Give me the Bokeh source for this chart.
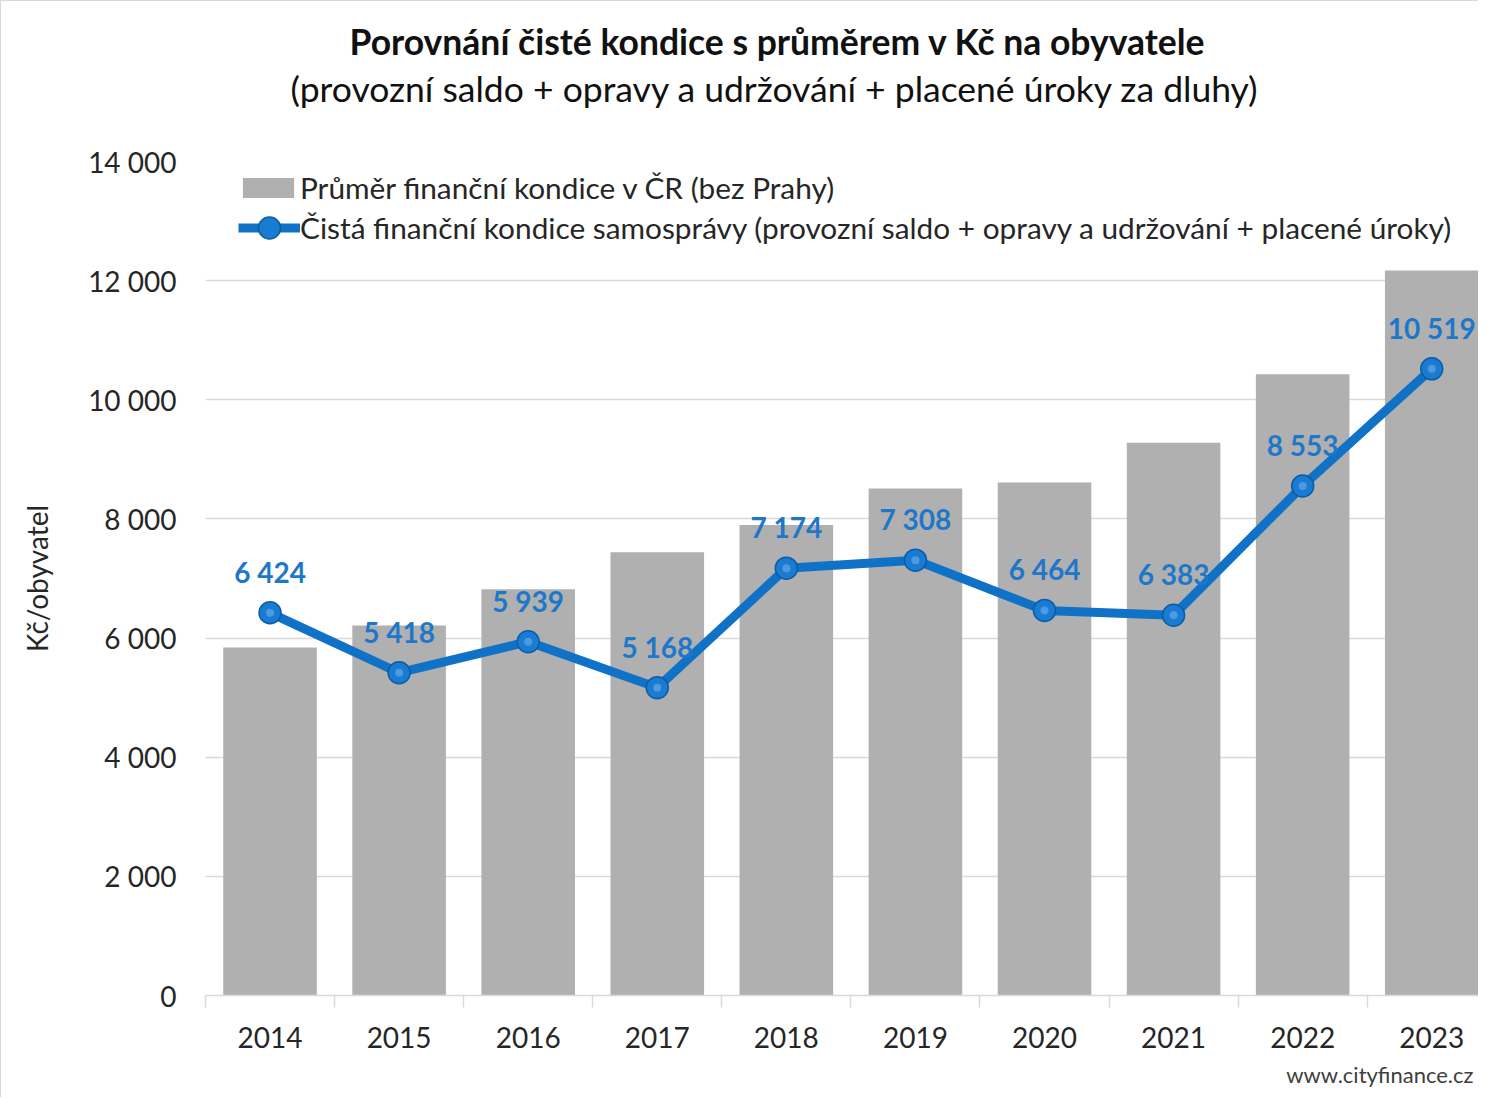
from bokeh.plotting import figure
from bokeh.models import (ColumnDataSource, Range1d, FixedTicker, Legend, LegendItem,
                          LabelSet, Title)
from bokeh.core.properties import value
from bokeh.embed import file_html
from bokeh.resources import INLINE

# ---- data ----
years = ["2014", "2015", "2016", "2017", "2018", "2019", "2020", "2021", "2022", "2023"]
avg_condition = [5840, 6210, 6820, 7440, 7900, 8510, 8610, 9280, 10430, 12170]
net_condition = [6424, 5418, 5939, 5168, 7174, 7308, 6464, 6383, 8553, 10519]
y_ticks = [0, 2000, 4000, 6000, 8000, 10000, 12000, 14000]
y_tick_labels = ["0", "2 000", "4 000", "6 000", "8 000", "10 000", "12 000", "14 000"]

title_text = "Porovnání čisté kondice s průměrem v Kč na obyvatele"
subtitle_text = "(provozní saldo + opravy a udržování + placené úroky za dluhy)"
bar_label = "Průměr finanční kondice v ČR (bez Prahy)"
line_label = "Čistá finanční kondice samosprávy (provozní saldo + opravy a udržování + placené úroky)"
y_axis_label = "Kč/obyvatel"
source_text = "www.cityfinance.cz"

FONT = "Lato"
BAR_COLOR = "#B0B0B0"
LINE_COLOR = "#0F72C6"
LABEL_COLOR = "#1E77C9"
TEXT_COLOR = "#262626"

idx = list(range(len(years)))
src = ColumnDataSource(dict(
    x=idx,
    avg=avg_condition,
    net=net_condition,
    lbl=[f"{v:,}".replace(",", " ") for v in net_condition],
))

p = figure(
    width=1478, height=1097,
    output_backend="svg", toolbar_location=None, title=None,
    x_range=Range1d(-0.5, 9.37), y_range=Range1d(0, 14000),
    min_border_left=204, min_border_right=0, min_border_top=160, min_border_bottom=103,
)
p.outline_line_color = None
p.background_fill_color = "white"
p.border_fill_color = "white"
p.styles = {"border-left": "1px solid #D9D9D9", "border-top": "1px solid #D9D9D9"}

bars = p.vbar(x="x", top="avg", width=0.725, source=src, fill_color=BAR_COLOR, line_color=None)
line = p.line(x="x", y="net", source=src, line_color=LINE_COLOR, line_width=9, line_join="round")
pts = p.scatter(x="x", y="net", source=src, size=22, fill_color="#1A7BD2", line_color="#0A5DA6", line_width=1.5)
hl = p.scatter(x="x", y="net", source=src, size=8, fill_color="#7DBAF0", line_color=None, fill_alpha=0.5)

labels = LabelSet(x="x", y="net", text="lbl", source=src, y_offset=30, text_align="center",
                  text_baseline="alphabetic", text_font=value(FONT), text_font_style="bold",
                  text_font_size="28px", text_color=LABEL_COLOR)
p.add_layout(labels)

# axes
p.xgrid.visible = False
p.ygrid.grid_line_color = "#D9D9D9"
p.ygrid.grid_line_width = 1.5
p.yaxis.ticker = FixedTicker(ticks=y_ticks)
p.yaxis.major_label_overrides = {t: l for t, l in zip(y_ticks, y_tick_labels)}
p.yaxis.axis_line_color = None
p.yaxis.major_tick_line_color = None
p.yaxis.major_tick_out = 0
p.yaxis.minor_tick_line_color = None
p.yaxis.major_label_standoff = 29
p.yaxis.major_label_text_font = FONT
p.yaxis.major_label_text_font_size = "28px"
p.yaxis.major_label_text_color = TEXT_COLOR
p.yaxis.axis_label = y_axis_label
p.yaxis.axis_label_text_font = FONT
p.yaxis.axis_label_text_font_style = "normal"
p.yaxis.axis_label_text_font_size = "28px"
p.yaxis.axis_label_text_color = TEXT_COLOR
p.yaxis.axis_label_standoff = 31

p.xaxis.ticker = FixedTicker(ticks=idx, minor_ticks=[i - 0.5 for i in range(len(years) + 1)])
p.xaxis.major_label_overrides = {i: y for i, y in zip(idx, years)}
p.xaxis.axis_line_color = "#D9D9D9"
p.xaxis.axis_line_width = 1.5
p.xaxis.major_tick_line_color = None
p.xaxis.major_tick_out = 0
p.xaxis.minor_tick_line_color = "#D9D9D9"
p.xaxis.minor_tick_line_width = 1.5
p.xaxis.minor_tick_in = 0
p.xaxis.minor_tick_out = 12
p.xaxis.major_label_standoff = 19
p.xaxis.major_label_text_font = FONT
p.xaxis.major_label_text_font_size = "28px"
p.xaxis.major_label_text_color = TEXT_COLOR


def style_legend(lg):
    lg.background_fill_alpha = 0
    lg.border_line_color = None
    lg.margin = 0
    lg.padding = 0
    lg.label_standoff = 0
    lg.label_text_font = FONT
    lg.label_text_font_size = "29.8px"
    lg.label_text_color = TEXT_COLOR


legend_bar = Legend(items=[LegendItem(label=bar_label, renderers=[bars])],
                    location=(31, 790))
style_legend(legend_bar)
legend_bar.glyph_width = 64
legend_bar.glyph_height = 25
legend_bar.label_height = 25
p.add_layout(legend_bar)

legend_line = Legend(items=[LegendItem(label=line_label, renderers=[line, pts])],
                     location=(33, 740))
style_legend(legend_line)
legend_line.glyph_width = 62
legend_line.glyph_height = 55
legend_line.label_height = 55
p.add_layout(legend_line)

# titles (first added sits closest to the frame)
p.add_layout(Title(text=" ", text_font_size="34px"), "above")
p.add_layout(Title(text=subtitle_text, align="left", offset=85, standoff=4, text_font=FONT,
                   text_font_style="normal", text_font_size="35.5px", text_color="#111111"), "above")
p.add_layout(Title(text=title_text, align="left", offset=144, standoff=0, text_font=FONT,
                   text_font_style="bold", text_font_size="35.5px", text_color="#111111"), "above")
p.add_layout(Title(text=source_text, align="right", offset=6, standoff=17, text_font=FONT,
                   text_font_style="normal", text_font_size="22px", text_color="#404040"), "below")

open("out.html", "w").write(file_html(p, INLINE))
